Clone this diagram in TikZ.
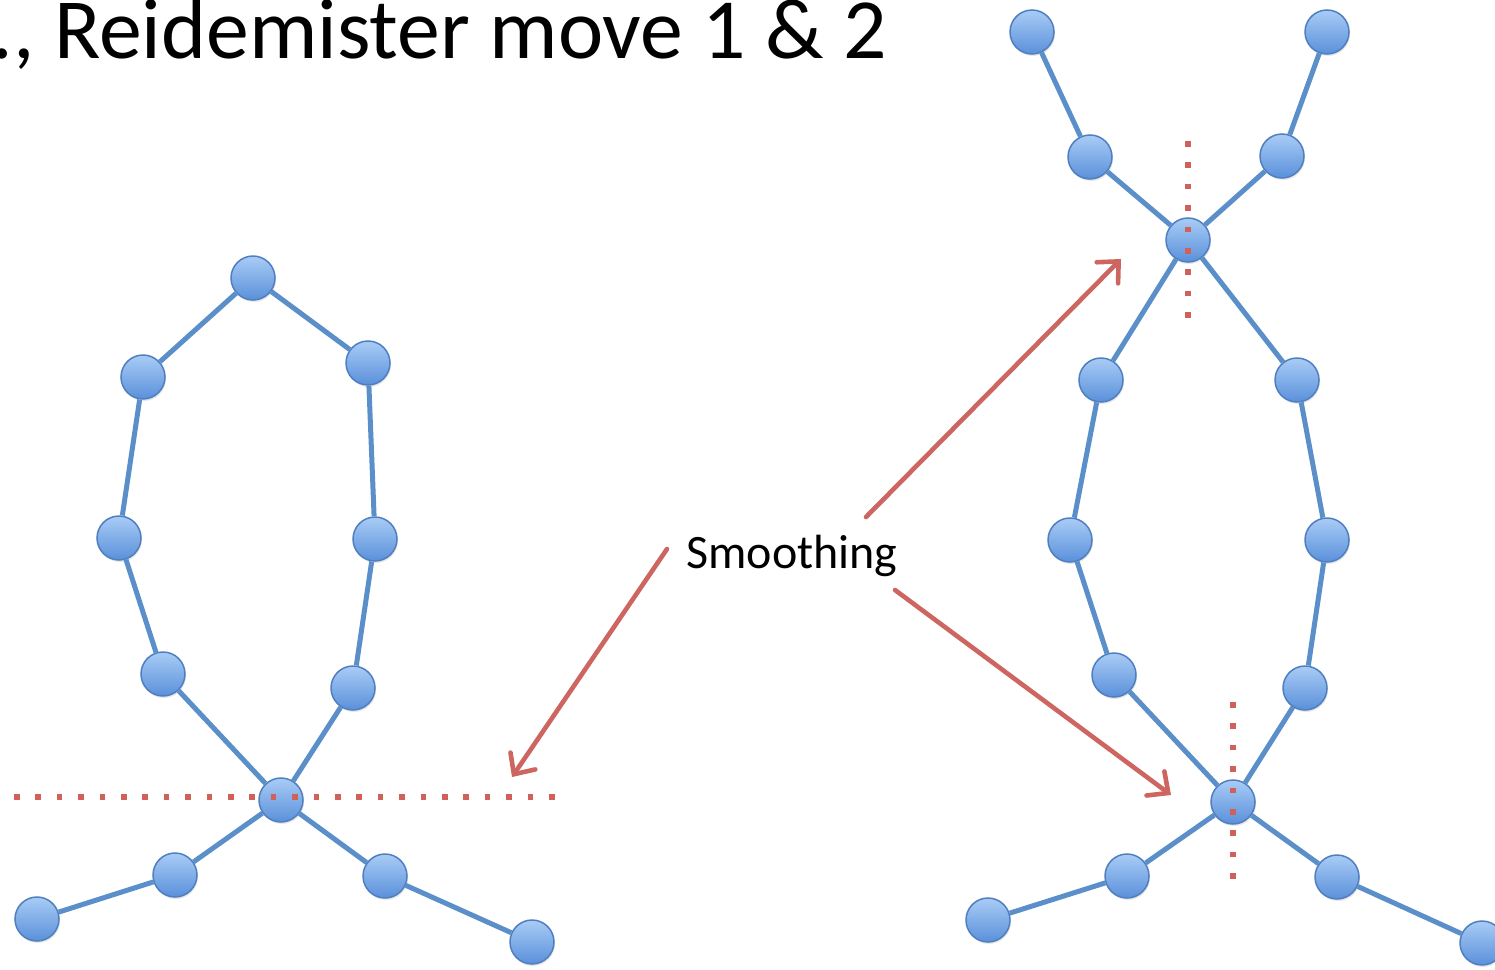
\documentclass[tikz,border=0pt]{standalone}
\usepackage{fontspec}
\setmainfont{Carlito}
\usetikzlibrary{arrows.meta,shadows}
\definecolor{edgeblue}{HTML}{5B8FC9}
\definecolor{ballTop}{HTML}{A9CCF6}
\definecolor{ballBot}{HTML}{5A90DA}
\definecolor{ballRim}{HTML}{4F7FBF}
\definecolor{dotred}{HTML}{D0605A}
\definecolor{arrred}{HTML}{CD6560}
\begin{document}
\begin{tikzpicture}[x=1pt,y=-1pt,
  ball/.style={circle, minimum size=44pt, inner sep=0pt, top color=ballTop, bottom color=ballBot,
    draw=ballRim, line width=1.5pt, drop shadow={opacity=0.18, shadow xshift=1pt, shadow yshift=-2pt}},
  link/.style={draw=edgeblue, line width=5pt},
  cut/.style={draw=dotred, line width=5.5pt, dash pattern=on 5.5pt off 15.9pt},
  pointer/.style={draw=arrred, line width=4.6pt, line cap=round, -{Straight Barb[length=16pt,width=30pt,line cap=round]}},
  title/.style={inner sep=0pt, font=\fontsize{85.7}{100}\selectfont},
  label/.style={inner sep=0pt, font=\fontsize{48}{56}\selectfont}]
\useasboundingbox (0,0) rectangle (1495,969);
\clip (0,0) rectangle (1495,969);

% title (cut at the left edge, as in the reference)
\node[title, anchor=base east] (title) at (887,58) {e.g., Reidemister move 1 \& 2};

% left figure
\node[ball] (L1) at (253,278) {};
\node[ball] (L2) at (143,377) {};
\node[ball] (L3) at (368,363) {};
\node[ball] (L4) at (119,538) {};
\node[ball] (L5) at (375,539) {};
\node[ball] (L6) at (163,674) {};
\node[ball] (L7) at (353,688) {};
\node[ball] (L8) at (281,800) {};
\node[ball] (L9) at (175,875) {};
\node[ball] (L10) at (385,876) {};
\node[ball] (L11) at (37,919) {};
\node[ball] (L12) at (532,942) {};
\path[link] (L1) -- (L2) (L2) -- (L4) (L4) -- (L6) (L6) -- (L8)
  (L1) -- (L3) (L3) -- (L5) (L5) -- (L7) (L7) -- (L8)
  (L8) -- (L9) (L9) -- (L11) (L8) -- (L10) (L10) -- (L12);

% right figure
\node[ball] (R1) at (1032,32) {};
\node[ball] (R2) at (1327,32) {};
\node[ball] (R3) at (1090,157) {};
\node[ball] (R4) at (1282,156) {};
\node[ball] (R5) at (1188,240) {};
\node[ball] (R6) at (1101,380) {};
\node[ball] (R7) at (1297,380) {};
\node[ball] (R8) at (1070,540) {};
\node[ball] (R9) at (1327,540) {};
\node[ball] (R10) at (1114,675) {};
\node[ball] (R11) at (1305,688) {};
\node[ball] (R12) at (1233,802) {};
\node[ball] (R13) at (1127,876) {};
\node[ball] (R14) at (1337,877) {};
\node[ball] (R15) at (988,920) {};
\node[ball] (R16) at (1482,943) {};
\path[link] (R1) -- (R3) (R3) -- (R5) (R2) -- (R4) (R4) -- (R5)
  (R5) -- (R6) (R6) -- (R8) (R8) -- (R10) (R10) -- (R12)
  (R5) -- (R7) (R7) -- (R9) (R9) -- (R11) (R11) -- (R12)
  (R12) -- (R13) (R13) -- (R15) (R12) -- (R14) (R14) -- (R16);

% dotted cut lines
\coordinate (h1) at (14,797);
\coordinate (h2) at (556,797);
\coordinate (v1) at (1188,141);
\coordinate (v2) at (1188,320);
\coordinate (w1) at (1233,702);
\coordinate (w2) at (1233,880);
\path[cut] (h1) -- (h2);
\path[cut] (v1) -- (v2);
\path[cut] (w1) -- (w2);

% label and arrows
\node[label, anchor=base] (smooth) at (792,568) {Smoothing};
\coordinate (a1s) at (667,549);
\coordinate (a1e) at (512,777);
\coordinate (a2s) at (866,517);
\coordinate (a2e) at (1121,259);
\coordinate (a3s) at (895,590);
\coordinate (a3e) at (1171,795);
\path[pointer] (a1s) -- (a1e);
\path[pointer] (a2s) -- (a2e);
\path[pointer] (a3s) -- (a3e);
\end{tikzpicture}
\end{document}
